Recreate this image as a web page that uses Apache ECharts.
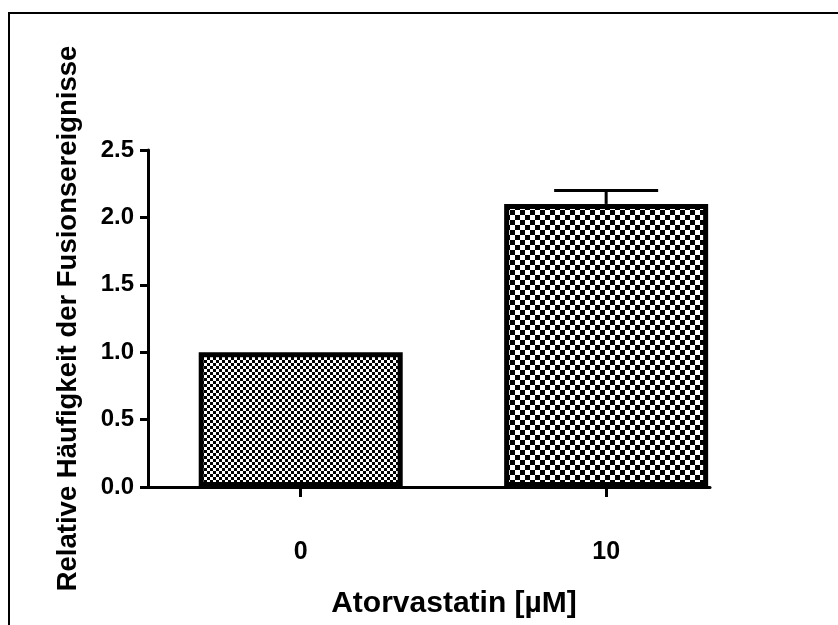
<!DOCTYPE html>
<html>
<head>
<meta charset="utf-8">
<script src="https://cdn.jsdelivr.net/npm/echarts@6/dist/echarts.min.js"></script>
<style>
html,body{margin:0;padding:0;background:#fff;}
#chart{width:838px;height:625px;}
</style>
</head>
<body>
<div id="chart"></div>
<script>
var categories = ['0', '10'];
var categoryPositions = [0, 1];
var meanValues = [1.0, 2.1];
var errorValues = [0.0, 0.1];
var yTicks = [0, 0.5, 1.0, 1.5, 2.0, 2.5];

function makePattern(size) {
  var c = document.createElement('canvas');
  c.width = size * 2; c.height = size * 2;
  var ctx = c.getContext('2d');
  ctx.fillStyle = '#ffffff';
  ctx.fillRect(0, 0, size * 2, size * 2);
  ctx.fillStyle = '#000000';
  ctx.fillRect(0, 0, size, size);
  ctx.fillRect(size, size, size, size);
  return c;
}
var patterns = [makePattern(3), makePattern(5)];

var chart = echarts.init(document.getElementById('chart'));
var font = 'Liberation Sans, Arial, sans-serif';

var barData = meanValues.map(function (v, i) {
  return {
    value: [categoryPositions[i], v],
    itemStyle: { color: { image: patterns[i], repeat: 'repeat' } }
  };
});
var errData = meanValues.map(function (v, i) {
  return [categoryPositions[i], v, v + errorValues[i]];
});

chart.setOption({
  animation: false,
  backgroundColor: '#ffffff',
  graphic: [{
    type: 'rect',
    shape: { x: 9, y: 13, width: 900, height: 700 },
    style: { fill: 'none', stroke: '#000', lineWidth: 2 },
    silent: true
  }],
  grid: { left: 148, right: 128, top: 150, bottom: 138, containLabel: false },
  xAxis: {
    type: 'value',
    min: -0.5,
    max: 1.34,
    splitLine: { show: false },
    axisLine: { show: true, onZero: false, lineStyle: { color: '#000', width: 3 } },
    axisTick: { show: true, customValues: categoryPositions, length: 10, inside: false, lineStyle: { color: '#000', width: 3 } },
    axisLabel: {
      customValues: categoryPositions,
      formatter: function (v) { var i = categoryPositions.indexOf(v); return i >= 0 ? categories[i] : ''; },
      margin: 53, fontSize: 25, fontWeight: 'bold', color: '#000', fontFamily: font
    },
    name: 'Atorvastatin [µM]',
    nameLocation: 'middle',
    nameGap: 102,
    nameTextStyle: { fontSize: 30, fontWeight: 'bold', color: '#000', fontFamily: font, padding: [0, 0, 0, 50] }
  },
  yAxis: {
    type: 'value',
    min: 0, max: 2.5, interval: 0.5,
    splitLine: { show: false },
    axisLine: { show: true, onZero: false, lineStyle: { color: '#000', width: 3 } },
    axisTick: { show: true, length: 8, lineStyle: { color: '#000', width: 3 } },
    axisLabel: {
      formatter: function (v) { return v.toFixed(1); },
      margin: 14, fontSize: 24, fontWeight: 'bold', color: '#000', fontFamily: font
    },
    name: 'Relative Häufigkeit der Fusionsereignisse',
    nameLocation: 'middle',
    nameGap: 66,
    nameTextStyle: { fontSize: 27.5, fontWeight: 'bold', color: '#000', fontFamily: font }
  },
  series: [{
    type: 'bar',
    data: barData,
    barWidth: 204,
    itemStyle: { borderColor: '#000', borderWidth: 5 }
  }, {
    type: 'custom',
    data: errData,
    z: 1,
    renderItem: function (params, api) {
      var x = api.value(0);
      var top = api.coord([x, api.value(2)]);
      var base = api.coord([x, api.value(1)]);
      if (api.value(2) <= api.value(1)) return null;
      var half = 52;
      return {
        type: 'group',
        children: [
          { type: 'line', shape: { x1: top[0], y1: top[1], x2: top[0], y2: base[1] }, style: { stroke: '#000', lineWidth: 3 } },
          { type: 'line', shape: { x1: top[0] - half, y1: top[1], x2: top[0] + half, y2: top[1] }, style: { stroke: '#000', lineWidth: 3 } }
        ]
      };
    }
  }]
});
</script>
</body>
</html>
